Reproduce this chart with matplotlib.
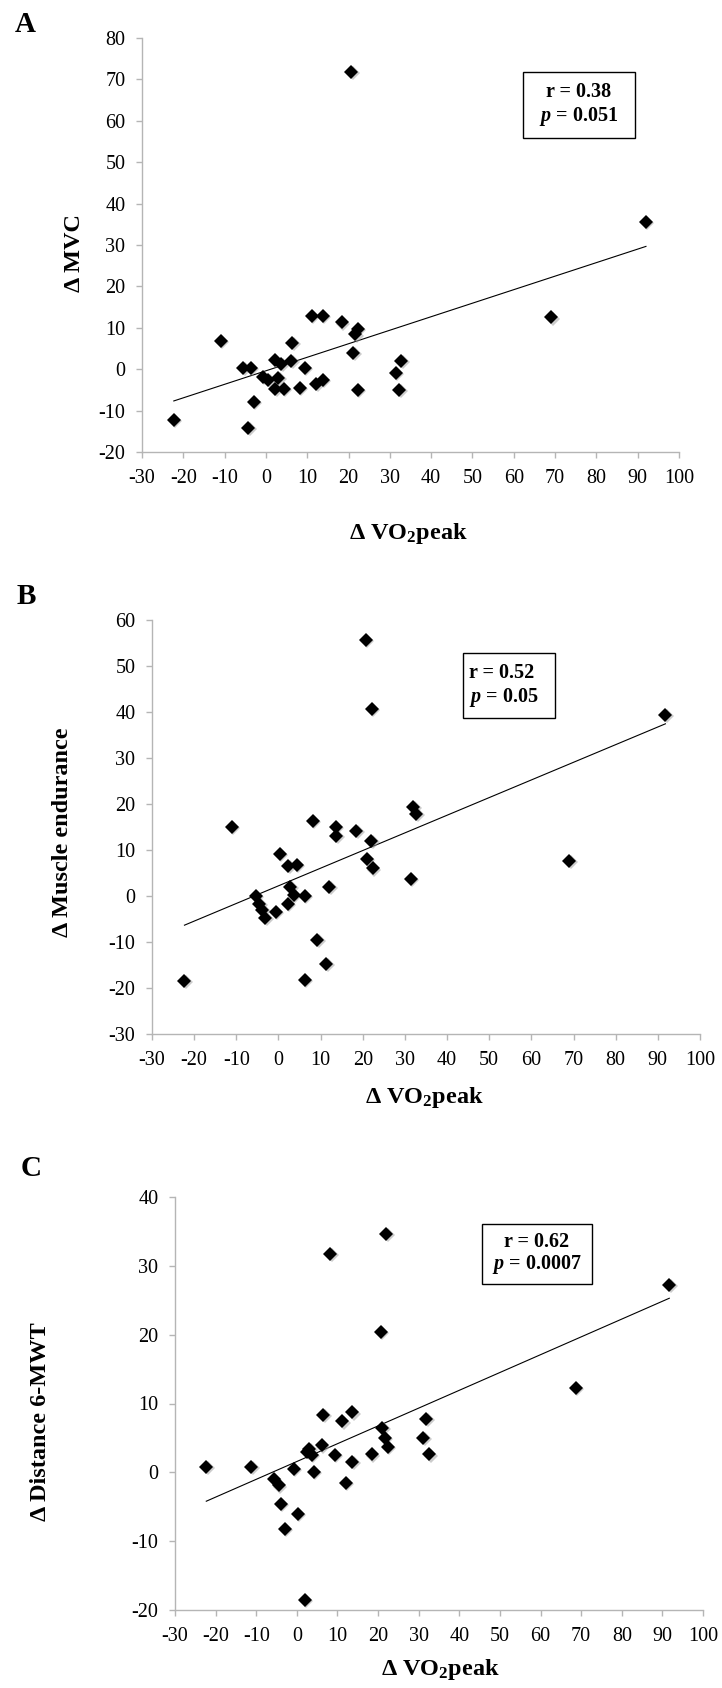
import numpy as np
import matplotlib
matplotlib.use("Agg")
import matplotlib.pyplot as plt
from matplotlib.patches import Rectangle

plt.rcParams['font.family'] = ['Liberation Serif', 'DejaVu Serif']
plt.rcParams['axes.unicode_minus'] = False
plt.rcParams['mathtext.fontset'] = 'custom'
plt.rcParams['mathtext.rm'] = 'Liberation Serif:bold'
plt.rcParams['mathtext.bf'] = 'Liberation Serif:bold'
plt.rcParams['mathtext.it'] = 'Liberation Serif:italic:bold'

# ---- data ----
vo2_a = [20.7, 92.0, 69.1, -10.9, 11.1, 13.7, 18.4, 22.3, 21.6, 21.1, 6.4, -5.5, -3.7, 2.2, 3.7, 6.1,
         9.4, -0.7, 0.6, 3.0, 2.3, 4.3, 8.2, 12.2, 13.7, 22.3, 31.4, 32.8, 32.3, -3.0, -22.3, -4.3]
mvc = [71.8, 35.5, 12.5, 6.9, 12.9, 12.9, 11.3, 9.7, 8.4, 3.9, 6.4, 0.3, 0.3, 2.3, 1.2, 1.9,
       0.2, -1.9, -2.6, -2.1, -4.7, -4.7, -4.5, -3.5, -2.6, -5.1, -0.9, 2.0, -5.1, -8.0, -12.3, -14.1]

vo2_b = [20.7, 22.1, 91.8, -11.1, 8.1, 13.6, 13.7, 18.4, 32.0, 32.7, 22.0, 20.9, 22.4, 69.0, 31.4, 0.3,
         2.3, 4.3, 12.0, 2.8, -5.4, 6.2, 3.6, 2.2, -4.6, -3.8, -3.1, -0.7, 9.2, 11.3, -22.3, 6.3]
endurance = [55.6, 40.7, 39.3, 15.0, 16.3, 15.1, 13.1, 14.2, 19.4, 17.9, 12.0, 8.1, 6.0, 7.6, 3.7, 9.2,
             6.5, 6.8, 1.9, 2.0, 0.0, 0.0, 0.3, -1.7, -1.7, -3.1, -4.7, -3.4, -9.6, -14.7, -18.5, -18.2]

vo2_c = [8.2, 22.0, 20.6, 91.7, 68.7, -22.3, -11.2, -5.7, -4.5, -4.0, -2.9, -0.7, 0.3, 2.0, 2.6, 3.1,
         3.7, 4.2, 6.2, 6.5, 9.3, 11.2, 13.6, 12.1, 13.7, 18.5, 21.0, 21.7, 22.4, 31.1, 31.9, 32.6]
distance = [31.7, 34.6, 20.4, 27.2, 12.3, 0.8, 0.8, -0.9, -1.9, -4.6, -8.2, 0.5, -6.0, -18.6, 2.9, 3.4,
            2.5, 0.0, 3.9, 8.4, 2.5, 7.4, 8.7, -1.6, 1.5, 2.6, 6.5, 5.0, 3.7, 5.0, 7.8, 2.6]

x_ticks = list(range(-30, 101, 10))
y_ticks_a = list(range(-20, 81, 10))
y_ticks_b = list(range(-30, 61, 10))
y_ticks_c = list(range(-20, 41, 10))

panel_letters = ['A', 'B', 'C']
y_labels = ['Δ MVC', 'Δ Muscle endurance', 'Δ Distance 6-MWT']
x_label = 'Δ VO$_2$peak'
stats_r = ['r = 0.38', 'r = 0.52', 'r = 0.62']
stats_p = ['$p$ = 0.051', '$p$ = 0.05', '$p$ = 0.0007']

W, H = 722, 1688
fig = plt.figure(figsize=(W / 100, H / 100), dpi=100)

def fx(px):
    return px / W

def fy(py):
    return 1 - py / H

# axes boxes in pixels: left, right, top, bottom
boxes = [(142, 679, 38, 452), (152, 700, 620, 1034), (175, 703, 1197, 1610)]
datasets = [(vo2_a, mvc, y_ticks_a), (vo2_b, endurance, y_ticks_b), (vo2_c, distance, y_ticks_c)]
letter_pos = [(25, 25), (26, 597), (31, 1168)]
ylabel_pos = [(75, 253), (62, 832), (41, 1422)]
xlabel_pos = [(408, 534), (424, 1097), (440, 1670)]
stat_boxes = [(523, 635, 72, 138), (463, 555, 653, 718), (482, 592, 1224, 1284)]
stat_align = ['center', 'left', 'center']

spine_col = '#b5b5b5'

for i, ((l, r, t, b), (xs, ys, yt)) in enumerate(zip(boxes, datasets)):
    ax = fig.add_axes([fx(l), fy(b), fx(r - l), (b - t) / H])
    xs = np.array(xs)
    ys = np.array(ys)
    ax.set_xlim(x_ticks[0], x_ticks[-1])
    ax.set_ylim(yt[0], yt[-1])
    ax.set_xticks(x_ticks)
    ax.set_yticks(yt)
    for s in ['top', 'right']:
        ax.spines[s].set_visible(False)
    for s in ['left', 'bottom']:
        ax.spines[s].set_color(spine_col)
        ax.spines[s].set_linewidth(1.0)
    ax.tick_params(axis='both', direction='out', length=4, width=1.0, color=spine_col,
                   labelsize=14.5, labelcolor='black', pad=8)
    ax.patch.set_alpha(0)
    # trend line
    k, c0 = np.polyfit(xs, ys, 1)
    xx = np.array([xs.min(), xs.max()])
    ax.plot(xx, k * xx + c0, color='black', lw=0.8, zorder=2)
    # shadow + markers
    ax.plot(xs + 0.35, ys - 0.35 * (yt[-1] - yt[0]) / 130, linestyle='none', marker='D',
            markersize=7.2, color='#9a9a9a', alpha=0.5, markeredgewidth=0, zorder=2.5, clip_on=False)
    ax.plot(xs, ys, linestyle='none', marker='D', markersize=7.2, color='black',
            markeredgewidth=0, zorder=3, clip_on=False)

    # panel letter
    fig.text(fx(letter_pos[i][0]), fy(letter_pos[i][1]), panel_letters[i], fontsize=21,
             fontweight='bold', ha='center', va='center')
    fig.text(fx(ylabel_pos[i][0]), fy(ylabel_pos[i][1]), y_labels[i], fontsize=17.5,
             fontweight='bold', rotation=90, ha='center', va='center')
    fig.text(fx(xlabel_pos[i][0]), fy(xlabel_pos[i][1]), x_label, fontsize=17.5,
             fontweight='bold', ha='center', va='center')

    # stats box
    bl, br, bt, bb = stat_boxes[i]
    fig.add_artist(Rectangle((fx(bl), fy(bb)), fx(br - bl), (bb - bt) / H, transform=fig.transFigure,
                             fill=False, edgecolor='black', linewidth=1.0))
    h = bb - bt
    if stat_align[i] == 'center':
        tx = (bl + br) / 2
    else:
        tx = bl + 6
    fig.text(fx(tx), fy(bt + h * 0.30), stats_r[i], fontsize=14.5, fontweight='bold',
             ha=stat_align[i], va='center')
    fig.text(fx(tx), fy(bt + h * 0.68), stats_p[i], fontsize=14.5, fontweight='bold',
             ha=stat_align[i], va='center')

fig.savefig('out.png', dpi=100, facecolor='white')
